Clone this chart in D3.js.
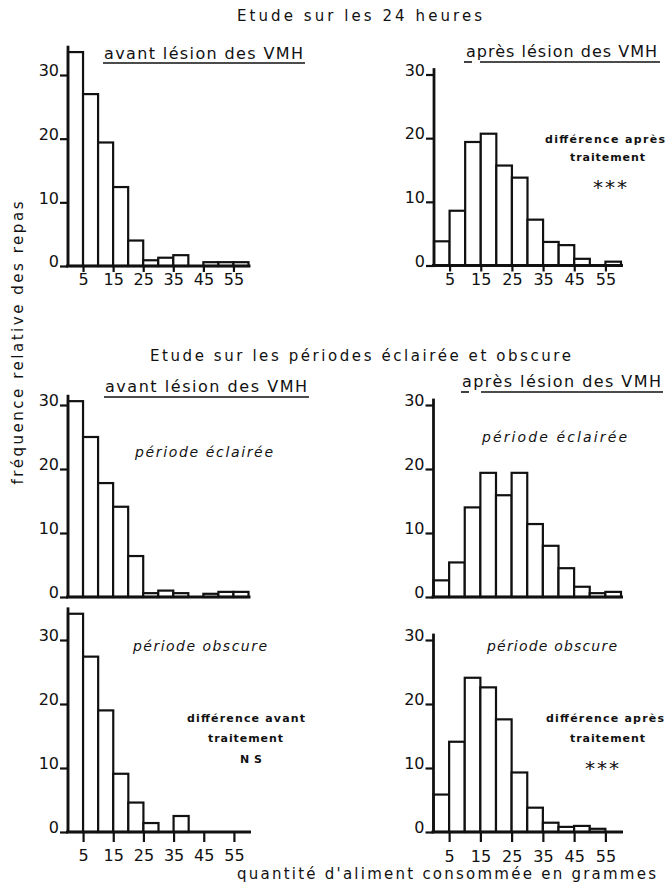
<!DOCTYPE html>
<meta charset="utf-8">
<head>
    <title>Fréquence relative des repas</title>
    <style>
        body { margin: 0; background: #fff; }
        text { font-family: "DejaVu Sans", sans-serif; fill: #111; }
    </style>
</head>
<body>
<svg id="chart" width="667" height="888"></svg>
<script src="https://cdn.jsdelivr.net/npm/d3@7/dist/d3.min.js"></script>
<script>

    // classes de 5 g (debut de chaque classe)
    var binStarts = [0, 5, 10, 15, 20, 25, 30, 35, 40, 45, 50, 55];
    var binWidth = 5;
    var xTickValues = [5, 15, 25, 35, 45, 55];
    var yTickValues = [0, 10, 20, 30];

    // frequence relative (%)
    var avant24h      = [33.6, 27.0, 19.4, 12.4, 4.0, 0.9, 1.3, 1.7, 0, 0.6, 0.6, 0.6];
    var apres24h      = [3.8, 8.6, 19.4, 20.7, 15.7, 13.8, 7.2, 3.7, 3.2, 1.05, 0, 0.6];
    var avantEclairee = [30.6, 25.0, 17.8, 14.1, 6.4, 0.6, 1.0, 0.6, 0, 0.5, 0.8, 0.8];
    var apresEclairee = [2.6, 5.4, 14.0, 19.4, 15.9, 19.4, 11.4, 8.0, 4.5, 1.6, 0.6, 0.8];
    var avantObscure  = [34.1, 27.4, 19.0, 9.1, 4.6, 1.4, 0, 2.5, 0, 0, 0, 0];
    var apresObscure  = [5.85, 14.1, 24.1, 22.6, 17.6, 9.3, 3.8, 1.45, 0.8, 0.95, 0.5, 0];

    var svg = d3.select("#chart");

    var panels = [
        {values: avant24h,      x: [68, 248.5],  y: [266, 75],     xLabels: true,  tick: 6,  labelY: 285},
        {values: apres24h,      x: [434, 621],   y: [265.5, 74.5], xLabels: true,  tick: 6,  labelY: 285},
        {values: avantEclairee, x: [68, 248.5],  y: [597, 405],    xLabels: false},
        {values: apresEclairee, x: [433.5, 621], y: [597, 405],    xLabels: false},
        {values: avantObscure,  x: [68, 249],    y: [832, 640],    xLabels: true,  tick: 10, labelY: 861},
        {values: apresObscure,  x: [433.5, 621], y: [832, 640],    xLabels: true,  tick: 10, labelY: 862}
    ];

    panels.forEach(drawPanel);

    function drawPanel(p) {
        var x = d3.scaleLinear().domain([0, 60]).range(p.x),
            y = d3.scaleLinear().domain([0, 30]).range(p.y),
            g = svg.append("g");

        // barres
        g.selectAll("rect")
            .data(p.values.map(function (v, i) { return {start: binStarts[i], v: v}; })
                .filter(function (d) { return d.v > 0; }))
            .enter().append("rect")
            .attr("x", function (d) { return x(d.start); })
            .attr("width", function (d) { return x(d.start + binWidth) - x(d.start); })
            .attr("y", function (d) { return y(d.v); })
            .attr("height", function (d) { return y(0) - y(d.v); })
            .attr("fill", "#fff")
            .attr("stroke", "#111")
            .attr("stroke-width", 2.2);

        // axe vertical
        var top = Math.max(30, d3.max(p.values)) + 1;
        var yAxis = g.append("g")
            .attr("transform", "translate(" + p.x[0] + ",0)")
            .call(d3.axisLeft(y).tickValues(yTickValues).tickSize(8).tickPadding(1));
        yAxis.select(".domain").remove();
        yAxis.selectAll("line").attr("stroke", "#111").attr("stroke-width", 2.2);
        yAxis.selectAll("text")
            .attr("dy", "0.05em")
            .style("font-size", "16px")
            .style("fill", "#111");
        g.append("line")
            .attr("x1", p.x[0]).attr("x2", p.x[0])
            .attr("y1", y(0) + 1).attr("y2", y(top))
            .attr("stroke", "#111").attr("stroke-width", 2.8);

        // axe horizontal
        g.append("line")
            .attr("x1", p.x[0] - 2).attr("x2", x(60) + 2)
            .attr("y1", y(0)).attr("y2", y(0))
            .attr("stroke", "#111").attr("stroke-width", 2.8);

        if (p.xLabels) {
            var xAxis = g.append("g")
                .attr("transform", "translate(0," + y(0) + ")")
                .call(d3.axisBottom(x).tickValues(xTickValues).tickSize(p.tick).tickFormat(d3.format("d")));
            xAxis.select(".domain").remove();
            xAxis.selectAll("line").attr("stroke", "#111").attr("stroke-width", 2.2);
            xAxis.selectAll("text")
                .attr("y", p.labelY - y(0))
                .attr("dy", 0)
                .style("font-size", "16px")
                .style("fill", "#111");
        }
    }

    // textes
    function label(str, x0, x1, yb, size, style) {
        var t = svg.append("text")
            .attr("x", x0).attr("y", yb)
            .attr("textLength", x1 - x0)
            .attr("lengthAdjust", "spacing")
            .style("font-size", size + "px")
            .text(str);
        if (style) t.style("font-style", style.italic ? "italic" : null)
                    .style("font-weight", style.weight || null);
        return t;
    }

    function underline(segments, yy) {
        segments.forEach(function (s) {
            svg.append("line")
                .attr("x1", s[0]).attr("x2", s[1])
                .attr("y1", yy).attr("y2", yy)
                .attr("stroke", "#111").attr("stroke-width", 1.6);
        });
    }

    label("Etude sur les 24 heures", 237, 482, 21, 15);
    label("Etude sur les périodes éclairée et obscure", 150, 571, 361, 15);

    label("avant lésion des VMH", 104, 303, 59, 16);
    underline([[103, 305]], 63);
    label("après lésion des VMH", 466, 657, 57, 16);
    underline([[464, 472], [480, 660]], 62);

    label("avant lésion des VMH", 105, 307, 392, 16);
    underline([[104, 309]], 397);
    label("après lésion des VMH", 462, 661, 387, 16);
    underline([[461, 469], [481, 663]], 392);

    var ann = {weight: "bold"};
    label("différence après", 545, 665, 143, 11, ann);
    label("traitement", 570, 645, 161, 11, ann);
    label("***", 593, 627, 194, 20);

    var it = {italic: true};
    label("période éclairée", 135, 273, 457, 14, it);
    label("période éclairée", 482, 627, 442, 14, it);
    label("période obscure", 133, 267, 651, 14, it);
    label("période obscure", 487, 617, 651, 14, it);

    label("différence avant", 187, 305, 722, 11, ann);
    label("traitement", 208, 283, 742, 11, ann);
    label("NS", 240, 262, 763, 11, ann);

    label("différence après", 546, 664, 722, 11, ann);
    label("traitement", 570, 645, 742, 11, ann);
    label("***", 585, 619, 775, 20);

    label("quantité d'aliment consommée en grammes", 237, 656, 879, 15);

    svg.append("text")
        .attr("transform", "translate(23,343) rotate(-90)")
        .attr("text-anchor", "middle")
        .attr("textLength", 283)
        .attr("lengthAdjust", "spacing")
        .style("font-size", "15px")
        .text("fréquence relative des repas");

</script>
</body>
